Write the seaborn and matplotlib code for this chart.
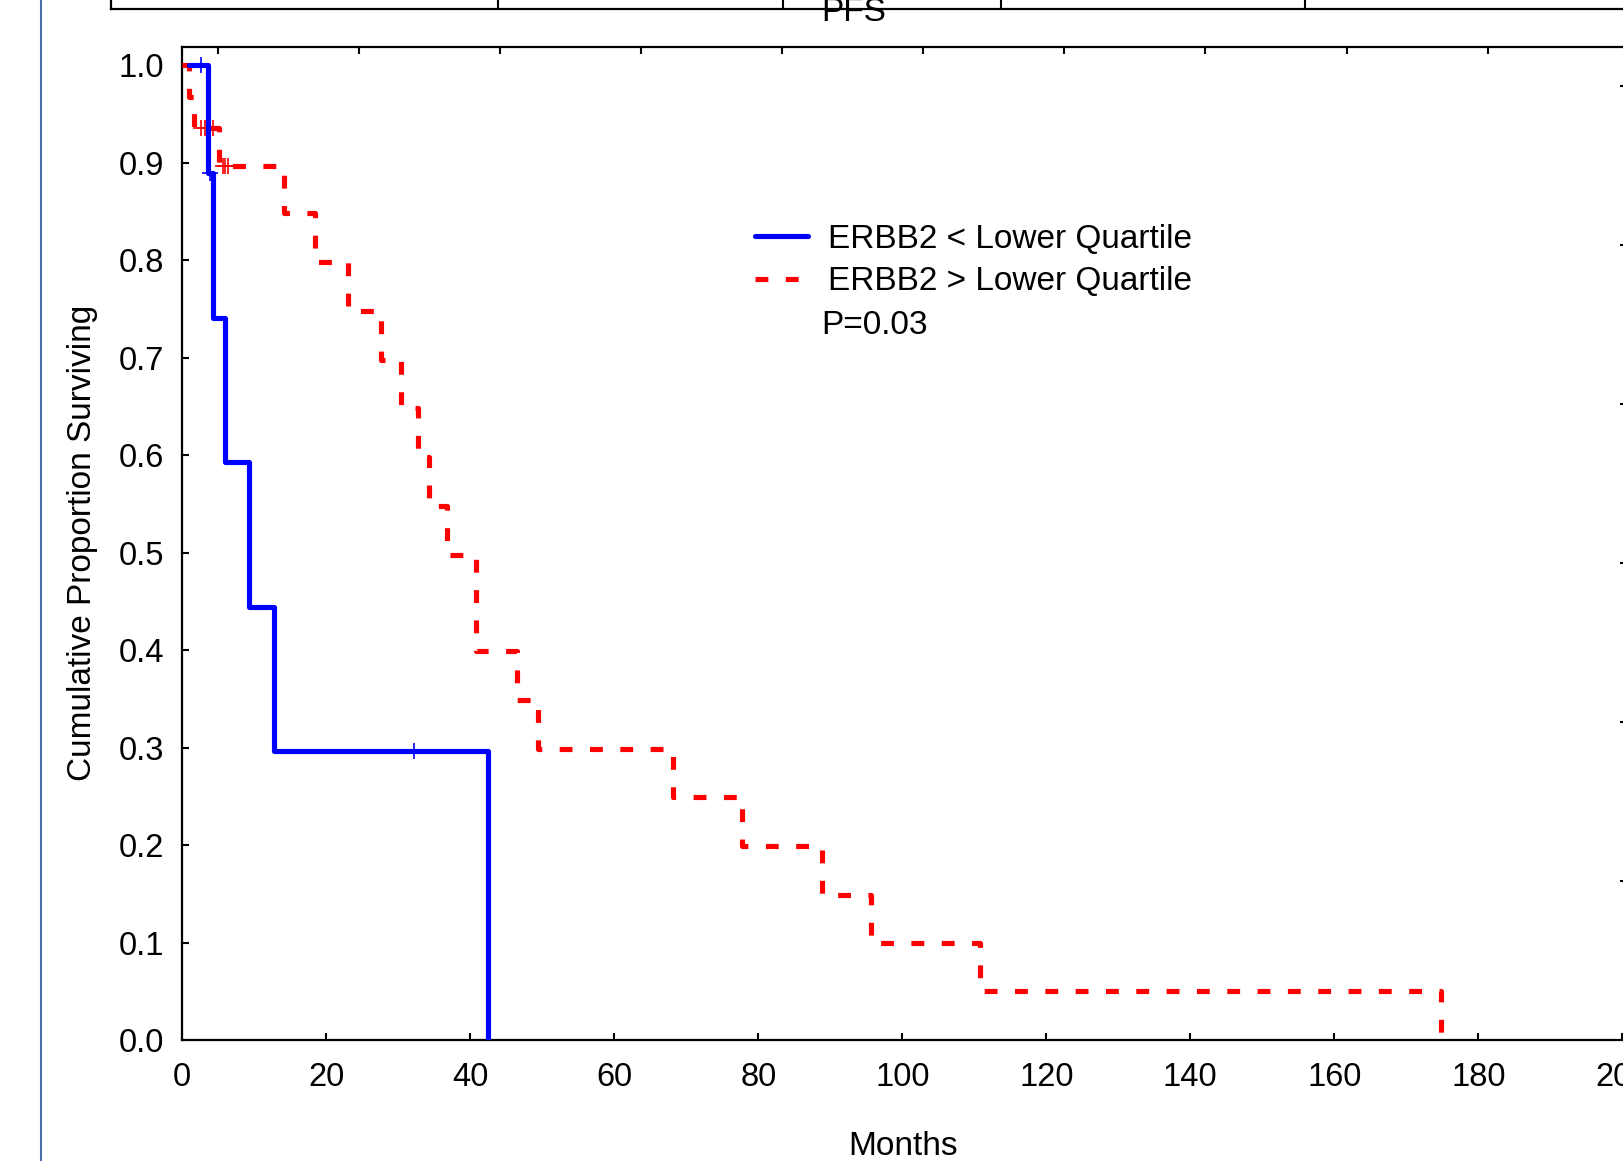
import numpy as np
import pandas as pd
import matplotlib
matplotlib.use("Agg")
import matplotlib.pyplot as plt
from matplotlib.lines import Line2D
import seaborn as sns

# Kaplan-Meier steps (months, cumulative proportion surviving)
low_time = [1.0, 3.6, 4.2, 6.0, 9.2, 12.7, 42.4]
low_surv = [1.0, 0.889, 0.741, 0.593, 0.444, 0.296, 0.0]
low_cens_time = [2.6, 3.9, 32.2]
low_cens_surv = [1.0, 0.889, 0.296]

high_time = [0, 1.0, 1.6, 5.1, 14.1, 18.4, 23.0, 27.6, 30.4, 32.8, 34.2, 36.8,
             40.8, 46.5, 49.4, 68.2, 77.7, 88.9, 95.7, 110.8, 174.8]
high_surv = [1.0, 0.967, 0.935, 0.897, 0.848, 0.798, 0.748, 0.698, 0.648, 0.598,
             0.548, 0.498, 0.399, 0.349, 0.299, 0.249, 0.199, 0.149, 0.100, 0.050, 0.0]
high_cens_time = [2.6, 3.1, 3.5, 3.9, 4.3, 5.6, 6.0, 6.4]
high_cens_surv = [0.935, 0.935, 0.935, 0.935, 0.935, 0.897, 0.897, 0.897]

labels = ["ERBB2 < Lower Quartile", "ERBB2 > Lower Quartile"]
p_text = "P=0.03"
x_ticks = [0, 20, 40, 60, 80, 100, 120, 140, 160, 180, 200]
y_ticks = [0.0, 0.1, 0.2, 0.3, 0.4, 0.5, 0.6, 0.7, 0.8, 0.9, 1.0]

sns.set_theme(style="ticks")
plt.rcParams["font.family"] = ["Liberation Sans", "DejaVu Sans"]

W, H = 1624, 1161
fig = plt.figure(figsize=(W / 100, H / 100), dpi=100)

# main axes, placed in pixels
left, bottom, top = 182.3, 1040.0, 46.6
ax = fig.add_axes([left / W, (H - bottom) / H, (W - left) / W, (bottom - top) / H])
ax.set_facecolor("white")

BLUE = "#0000ff"
RED = "#ff0000"
lw = 3.7

low_df = pd.DataFrame({"t": low_time, "s": low_surv})
high_df = pd.DataFrame({"t": high_time, "s": high_surv})

sns.lineplot(data=high_df, x="t", y="s", ax=ax, color=RED, linewidth=lw,
             drawstyle="steps-post", estimator=None, sort=False,
             linestyle=(0, (2.5, 3.4)), label=labels[1], zorder=3)
sns.lineplot(data=low_df, x="t", y="s", ax=ax, color=BLUE, linewidth=lw,
             drawstyle="steps-post", estimator=None, sort=False,
             label=labels[0], zorder=4)
sns.scatterplot(x=high_cens_time, y=high_cens_surv, ax=ax, marker="+", s=140,
                color=RED, linewidth=1.2, zorder=3)
sns.scatterplot(x=low_cens_time, y=low_cens_surv, ax=ax, marker="+", s=140,
                color=BLUE, linewidth=1.2, zorder=5)

ax.set_xlim(0, (W - left) / 7.2)
ax.set_ylim(0, 1.019)
ax.set_xticks(x_ticks)
ax.set_yticks(y_ticks)
ax.set_yticklabels([f"{v:.1f}" for v in y_ticks])
ax.tick_params(axis="both", direction="in", length=5, width=1.5, colors="black",
               labelsize=23.5, labelcolor="black")
ax.tick_params(axis="x", pad=16)
ax.tick_params(axis="y", pad=13)
for side in ["left", "bottom", "top"]:
    ax.spines[side].set_color("black")
    ax.spines[side].set_linewidth(1.6)
ax.spines["right"].set_visible(False)

ax.set_xlabel("Months", fontsize=24, labelpad=27, color="black")
ax.set_ylabel("Cumulative Proportion Surviving", fontsize=24, labelpad=15, color="black")

# ticks along the top edge (different scale in the original)
axt = ax.twiny()
axt.set_xlim(ax.get_xlim())
axt.set_xticks([4.9, 24.5, 44.1, 63.7, 83.3, 102.9, 122.5, 142.1, 161.7, 181.3])
axt.tick_params(axis="x", direction="in", length=5, width=1.5, labeltop=False, colors="black")
for s in axt.spines.values():
    s.set_visible(False)

# small ticks on the cut-off right edge
axr = ax.twinx()
axr.set_ylim(0, 1)
axr.set_yticks([0.16, 0.32, 0.48, 0.64, 0.80, 0.96])
axr.tick_params(axis="y", direction="in", length=3, width=1.5, labelright=False, colors="black")
for s in axr.spines.values():
    s.set_visible(False)

# legend, blue entry first
handles, labs = ax.get_legend_handles_labels()
order = [labs.index(labels[0]), labs.index(labels[1])]
leg = ax.legend([handles[i] for i in order], [labs[i] for i in order],
                loc="upper left", bbox_to_anchor=(755 / W, 1 - 224 / H),
                bbox_transform=fig.transFigure, frameon=False, fontsize=24,
                handlelength=1.6, handletextpad=0.6, labelspacing=0.34,
                borderpad=0, borderaxespad=0)
for t in leg.get_texts():
    t.set_color("black")
fig.text(821 / W, 1 - 325 / H, p_text, fontsize=24, va="center", ha="left", color="black")

# bottom of the panel above (cut off)
axu = fig.add_axes([111 / W, 1 - 9 / H, 1 - 111 / W, 0.1])
axu.patch.set_alpha(0)
axu.set_xlim(0, 1)
axu.set_xticks([0.256, 0.444, 0.588, 0.789])
axu.set_yticks([])
axu.tick_params(axis="x", direction="in", length=7, width=1.5, labelbottom=False, colors="black")
axu.spines["top"].set_visible(False)
axu.spines["right"].set_visible(False)
for side in ["left", "bottom"]:
    axu.spines[side].set_color("black")
    axu.spines[side].set_linewidth(1.6)
fig.text(854 / W, 1 - 21 / H, "PFS", fontsize=24, ha="center", va="baseline", color="black")

# page margin line on the left
fig.add_artist(Line2D([41 / W, 41 / W], [0, 1], transform=fig.transFigure,
                      color="#4a6fa6", linewidth=1.5))

fig.savefig("out.png", dpi=100, facecolor="white")
